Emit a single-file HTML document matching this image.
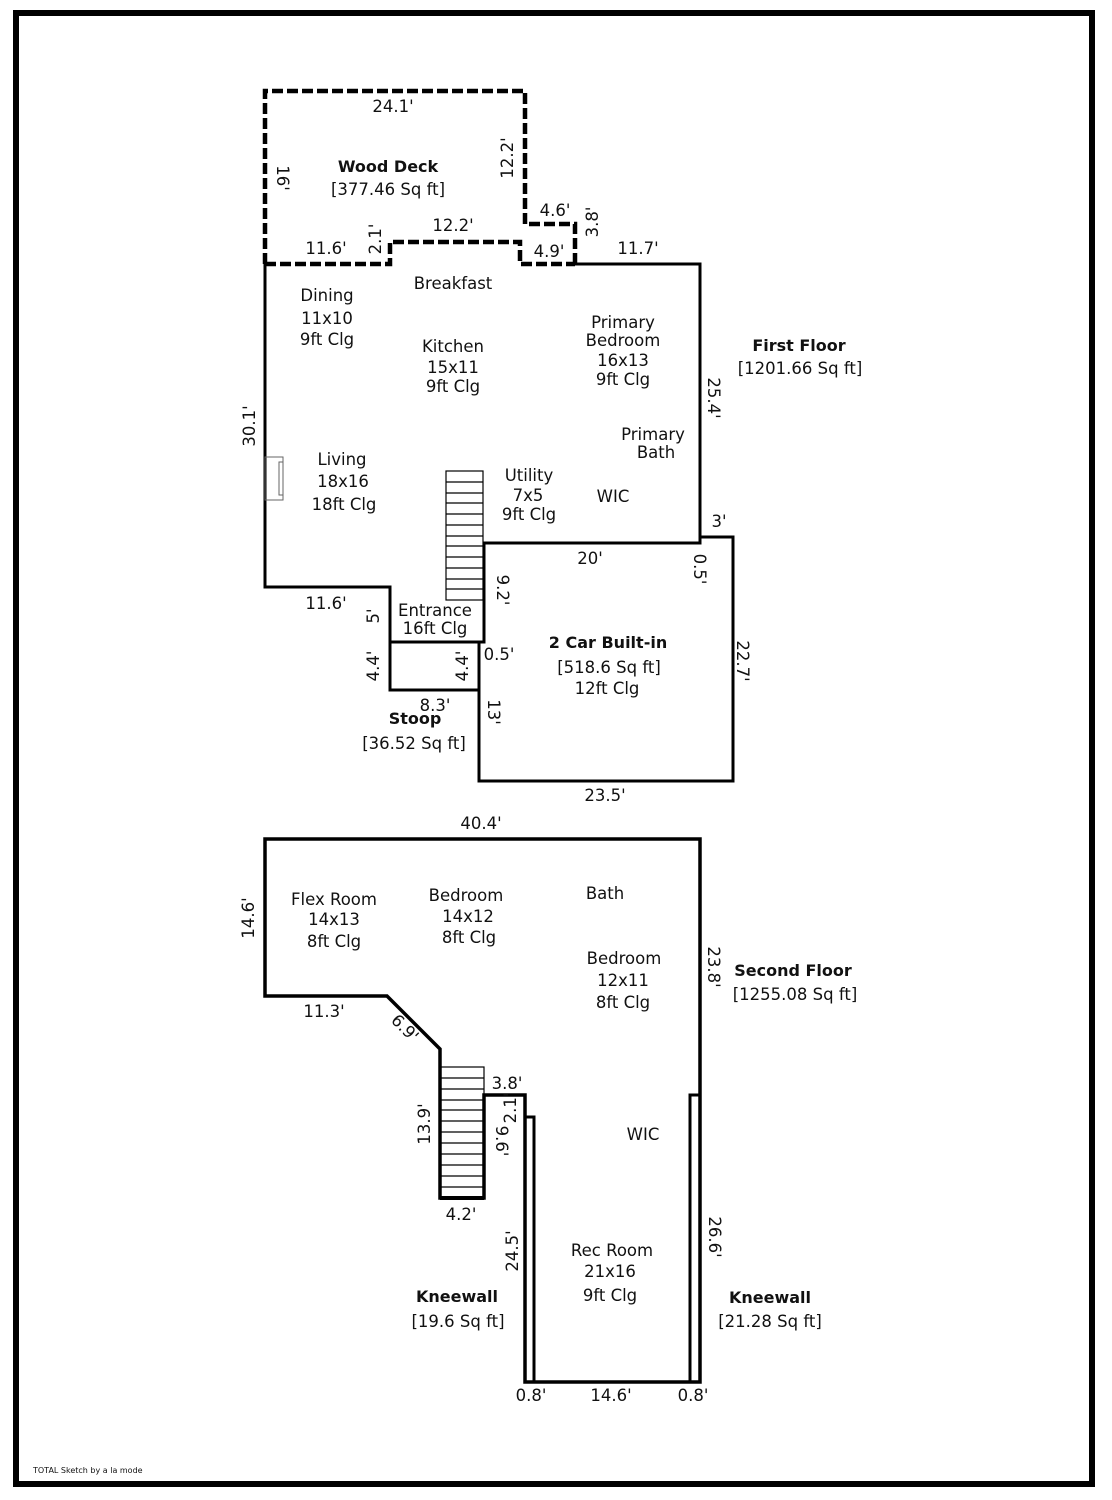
<!DOCTYPE html>
<html><head><meta charset="utf-8"><style>
html,body{margin:0;padding:0;background:#fff;}
svg{display:block}
text{font-family:"DejaVu Sans","Liberation Sans",sans-serif;font-size:16.5px;fill:#111;text-anchor:middle}
.b{font-weight:bold;font-size:16px}
</style></head><body>
<svg width="1112" height="1500" viewBox="0 0 1112 1500" xmlns="http://www.w3.org/2000/svg">
<rect x="16" y="13" width="1076" height="1471" fill="none" stroke="#000" stroke-width="6"/>
<g fill="none" stroke="#000" stroke-linejoin="miter">
<path d="M265,264 V91 H525 V224 H575 V264 M265,264 H390 V242 H520 V264 H575" stroke-width="4.5" stroke-dasharray="11,4"/>
<path d="M575,264 H700 V543 H484 V642 H390 V587 H265 V264" stroke-width="3"/>
<path d="M700,537 H733 V781 H479 V642" stroke-width="3"/>
<path d="M484,543 V642" stroke-width="3"/>
<rect x="390" y="642" width="89" height="48" stroke-width="3"/>
<rect x="265" y="457" width="18" height="43" stroke-width="1" stroke="#666"/>
<rect x="279" y="462" width="4" height="33" stroke-width="1" stroke="#666"/>
<rect x="446" y="471" width="37" height="129" stroke-width="1.2"/>
<path d="M446,482H483M446,493H483M446,503H483M446,514H483M446,525H483M446,536H483M446,546H483M446,557H483M446,568H483M446,579H483M446,589H483" stroke-width="1.2"/>
<path d="M265,839 H700 V1382 H525 V1095 H484 V1198 H440 V1049 L387,996 H265 Z" stroke-width="3.5"/>
<path d="M525,1117 H534 V1382 M690,1382 V1095 H700" stroke-width="3"/>
<rect x="440" y="1067" width="44" height="131" stroke-width="1.2"/>
<path d="M440,1078H484M440,1089H484M440,1100H484M440,1110H484M440,1121H484M440,1132H484M440,1143H484M440,1154H484M440,1165H484M440,1176H484M440,1187H484" stroke-width="1.2"/>
<path d="M440,1198 H484" stroke-width="4"/>
</g>
<text x="393" y="112">24.1'</text>
<text x="388" y="172" class="b">Wood Deck</text>
<text x="388" y="195">[377.46 Sq ft]</text>
<text transform="translate(277,178) rotate(90)">16'</text>
<text transform="translate(513,158) rotate(-90)">12.2'</text>
<text x="555" y="216">4.6'</text>
<text transform="translate(598,222) rotate(-90)">3.8'</text>
<text x="453" y="231">12.2'</text>
<text transform="translate(381,239) rotate(-90)">2.1'</text>
<text x="326" y="254">11.6'</text>
<text x="549" y="257">4.9'</text>
<text x="638" y="254">11.7'</text>
<text x="453" y="289">Breakfast</text>
<text x="327" y="301">Dining</text>
<text x="327" y="324">11x10</text>
<text x="327" y="345">9ft Clg</text>
<text x="453" y="352">Kitchen</text>
<text x="453" y="373">15x11</text>
<text x="453" y="392">9ft Clg</text>
<text x="623" y="328">Primary</text>
<text x="623" y="346">Bedroom</text>
<text x="623" y="366">16x13</text>
<text x="623" y="385">9ft Clg</text>
<text x="653" y="440">Primary</text>
<text x="656" y="458">Bath</text>
<text x="799" y="351" class="b">First Floor</text>
<text x="800" y="374">[1201.66 Sq ft]</text>
<text transform="translate(708,398) rotate(90)">25.4'</text>
<text transform="translate(255,426) rotate(-90)">30.1'</text>
<text x="342" y="465">Living</text>
<text x="343" y="487">18x16</text>
<text x="344" y="510">18ft Clg</text>
<text x="529" y="481">Utility</text>
<text x="528" y="501">7x5</text>
<text x="529" y="520">9ft Clg</text>
<text x="613" y="502">WIC</text>
<text x="719" y="527">3'</text>
<text x="590" y="564">20'</text>
<text transform="translate(694,569) rotate(90)">0.5'</text>
<text x="326" y="609">11.6'</text>
<text transform="translate(497,590) rotate(90)">9.2'</text>
<text transform="translate(379,616) rotate(-90)">5'</text>
<text x="435" y="616">Entrance</text>
<text x="435" y="634">16ft Clg</text>
<text x="608" y="648" class="b">2 Car Built-in</text>
<text x="609" y="673">[518.6 Sq ft]</text>
<text x="607" y="694">12ft Clg</text>
<text x="499" y="660">0.5'</text>
<text transform="translate(379,666) rotate(-90)">4.4'</text>
<text transform="translate(468,666) rotate(-90)">4.4'</text>
<text transform="translate(737,661) rotate(90)">22.7'</text>
<text x="435" y="711">8.3'</text>
<text x="415" y="724" class="b">Stoop</text>
<text x="414" y="749">[36.52 Sq ft]</text>
<text transform="translate(488,712) rotate(90)">13'</text>
<text x="605" y="801">23.5'</text>
<text x="481" y="829">40.4'</text>
<text transform="translate(254,918) rotate(-90)">14.6'</text>
<text x="334" y="905">Flex Room</text>
<text x="334" y="925">14x13</text>
<text x="334" y="947">8ft Clg</text>
<text x="466" y="901">Bedroom</text>
<text x="468" y="922">14x12</text>
<text x="469" y="943">8ft Clg</text>
<text x="605" y="899">Bath</text>
<text x="624" y="964">Bedroom</text>
<text x="623" y="986">12x11</text>
<text x="623" y="1008">8ft Clg</text>
<text transform="translate(708,967) rotate(90)">23.8'</text>
<text x="793" y="976" class="b">Second Floor</text>
<text x="795" y="1000">[1255.08 Sq ft]</text>
<text x="324" y="1017">11.3'</text>
<text transform="translate(401,1032) rotate(45)">6.9'</text>
<text x="507" y="1089">3.8'</text>
<text transform="translate(516,1108) rotate(-90)">2.1'</text>
<text transform="translate(430,1124) rotate(-90)">13.9'</text>
<text transform="translate(496,1141) rotate(90)">9.6'</text>
<text x="643" y="1140">WIC</text>
<text x="461" y="1220">4.2'</text>
<text transform="translate(518,1251) rotate(-90)">24.5'</text>
<text transform="translate(709,1237) rotate(90)">26.6'</text>
<text x="612" y="1256">Rec Room</text>
<text x="610" y="1277">21x16</text>
<text x="610" y="1301">9ft Clg</text>
<text x="457" y="1302" class="b">Kneewall</text>
<text x="458" y="1327">[19.6 Sq ft]</text>
<text x="770" y="1303" class="b">Kneewall</text>
<text x="770" y="1327">[21.28 Sq ft]</text>
<text x="531" y="1401">0.8'</text>
<text x="611" y="1401">14.6'</text>
<text x="693" y="1401">0.8'</text>
<text x="33" y="1473" style="font-size:8px;text-anchor:start">TOTAL Sketch by a la mode</text>
</svg>
</body></html>
